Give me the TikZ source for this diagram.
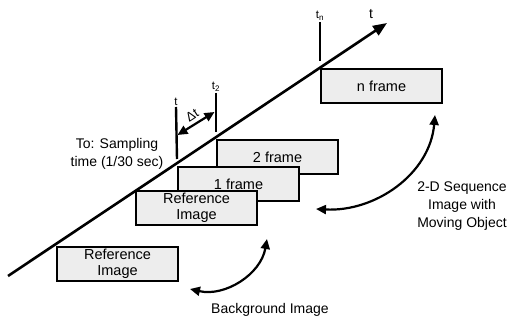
\documentclass[tikz,border=0pt]{standalone}
\usepackage{fontspec}
\setmainfont{Liberation Sans}
\usetikzlibrary{positioning}
\usetikzlibrary{arrows.meta}
\tikzset{%
	% Specifications for style of nodes:
	base/.style = {rectangle, draw=black, line width=2pt,
		minimum width=121pt, minimum height=34pt, inner sep=0pt,
		text centered, align=center, font=\fontsize{14.5}{15.5}\selectfont},
	frame/.style = {base, fill=black!7, anchor=north west},
	caption/.style = {align=center, font=\fontsize{14}{18}\selectfont},
	tlabel/.style = {inner sep=1pt, anchor=south, font=\fontsize{11.5}{12}\selectfont},
	timeaxis/.style = {line width=2.6pt, -{Triangle[length=14pt, width=11pt]}},
	tickline/.style = {line width=2.4pt},
	swing/.style = {line width=2.2pt, {Triangle[length=10pt, width=9pt]}-{Triangle[length=10pt, width=9pt]}}
}
\begin{document}
\begin{tikzpicture}[x=1pt, y=1pt]
		\useasboundingbox (0,0) rectangle (509,321);
		% frames along the time axis
		\node (nf) [frame] at (320,253) {n frame};
		\node (f2) [frame] at (216,182) {2 frame};
		\node (f1) [frame] at (177,155) {1 frame};
		\node (refA) [frame] at (135,131) {Reference\\Image};
		\node (refB) [frame] at (56,75) {Reference\\Image};
		\coordinate (origin) at (8,45);
		\coordinate (tip) at (387,298);
		\draw[timeaxis] (origin) -- (tip);
		\node (t) [caption] at (371,307) {t};
		% sampling instants
		\node (tn) [tlabel] at (320,299) {t\textsubscript{n}};
		\node (t2) [tlabel] at (216,228) {t\textsubscript{2}};
		\node (t1) [tlabel] at (176,214) {t};
		\draw[tickline] (tn.south) -- ([yshift=7pt]nf.north west);
		\draw[tickline] (t2.south) -- ([yshift=7pt]f2.north west);
		\draw[tickline] (t1.south) -- ([yshift=7pt]f1.north west);
		\draw[swing] ([xshift=1.5pt, yshift=-28pt]t1.south) -- ([xshift=-1.5pt, yshift=-19pt]t2.south);
		\node (dt) [rotate=33, font=\fontsize{13}{14}\selectfont] at (192,206) {Δt};
		\node (sampling) [caption] at (117,167) {To: Sampling\\time (1/30 sec)};
		% captions with curved arrows
		\coordinate (bgL) at ([xshift=11pt, yshift=-7pt]refB.south east);
		\coordinate (bgR) at ([xshift=9pt, yshift=-13pt]refA.south east);
		\draw[swing] (bgL) to[out=-13, in=-100] (bgR);
		\node (background) [caption] at (270,11) {Background Image};
		\coordinate (seqL) at ([xshift=16pt, yshift=-7pt]f1.south east);
		\coordinate (seqR) at ([xshift=-8pt, yshift=-11pt]nf.south east);
		\draw[swing] (seqL) to[out=-3, in=-95] (seqR);
		\node (sequence) [caption] at (462,115) {2-D Sequence\\Image with\\Moving Object};
\end{tikzpicture}
\end{document}
